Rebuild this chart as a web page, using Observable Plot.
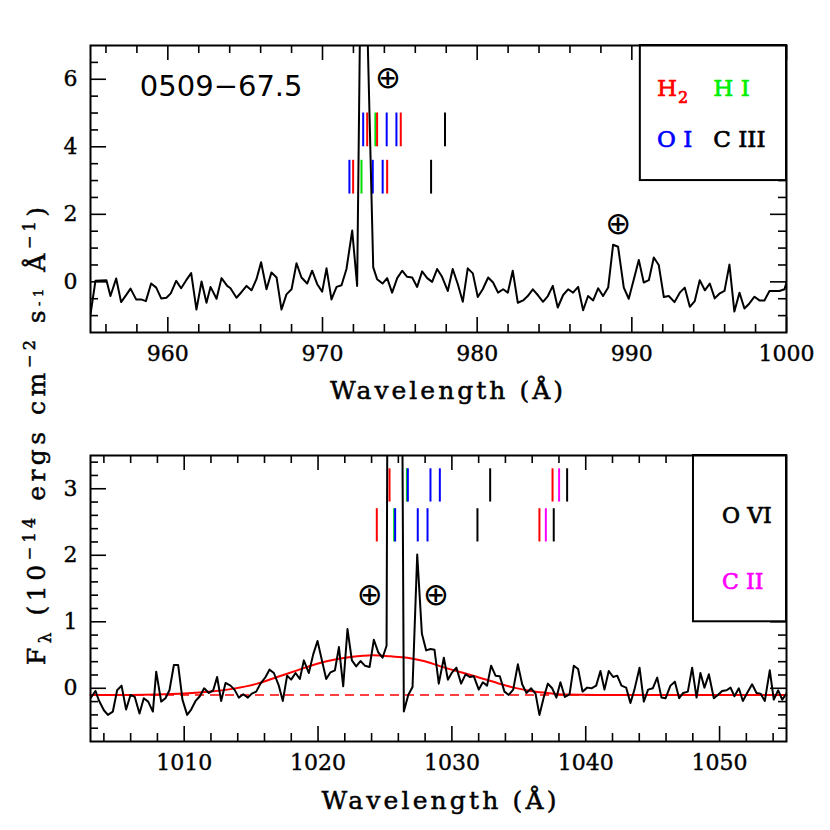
<!DOCTYPE html>
<html><head><meta charset="utf-8">
<script src="https://cdn.jsdelivr.net/npm/d3@7"></script>
<script src="https://cdn.jsdelivr.net/npm/@observablehq/plot@0.6"></script>
<style>
html,body{margin:0;padding:0;background:#fff;}
#wrap{position:relative;width:830px;height:830px;overflow:hidden;background:#fff;}
#wrap svg{position:absolute;left:0;}
</style></head><body><div id="wrap"></div>
<script>
// ---------- DATA ----------
const topWave = [955.00,955.32,955.67,956.03,956.29,956.66,956.98,957.29,957.59,957.95,958.27,958.58,958.92,959.25,959.57,959.91,960.19,960.54,960.86,961.19,961.51,961.85,962.18,962.50,962.76,963.15,963.47,963.84,964.05,964.44,964.77,965.09,965.41,965.73,966.03,966.38,966.70,967.03,967.35,967.67,968.00,968.32,968.64,969.01,969.33,969.66,969.98,970.26,970.58,970.91,971.23,971.55,971.92,972.24,972.52,972.84,973.28,973.53,973.88,974.18,974.50,974.83,975.15,975.47,975.80,976.12,976.44,976.77,977.09,977.41,977.73,978.10,978.42,978.75,979.07,979.39,979.72,980.04,980.36,980.71,981.03,981.35,981.68,981.98,982.30,982.63,982.97,983.27,983.60,983.92,984.26,984.57,984.89,985.21,985.56,985.88,986.20,986.53,986.85,987.17,987.50,987.82,988.14,988.47,988.79,989.11,989.48,989.80,990.13,990.45,990.77,991.10,991.42,991.74,992.07,992.39,992.76,993.10,993.42,993.75,994.07,994.39,994.72,995.04,995.36,995.69,995.99,996.31,996.63,996.96,997.28,997.60,997.93,998.25,998.57,998.90,999.22,999.54,999.87,1000.00];
const topFlux = [-0.96,0.03,0.04,0.05,-0.42,0.10,-0.60,-0.40,-0.20,-0.52,-0.52,-0.57,-0.05,-0.17,-0.49,-0.47,-0.34,0.03,-0.19,0.05,0.26,-0.82,0.01,-0.62,-0.15,-0.50,0.11,-0.12,-0.19,-0.47,-0.30,-0.12,-0.25,0.08,0.58,-0.22,0.28,0.13,-0.82,-0.37,-0.22,0.55,0.13,-0.05,0.33,-0.07,-0.29,0.40,-0.52,-0.15,-0.10,0.38,1.52,-0.12,11.5,8.7,0.43,0.08,-0.05,0.11,-0.32,0.11,0.33,0.15,0.13,-0.15,0.31,0.11,0.00,0.38,0.15,-0.27,0.38,-0.07,-0.59,0.40,0.25,-0.45,-0.22,0.13,-0.02,-0.32,-0.22,-0.32,0.33,-0.62,-0.55,-0.42,-0.22,-0.39,-0.59,-0.42,-0.12,-0.76,-0.39,-0.22,-0.32,-0.15,-0.84,-0.42,-0.55,-0.19,-0.42,-0.17,1.10,1.04,-0.17,-0.50,0.08,0.65,-0.02,0.05,0.72,0.50,-0.45,-0.42,-0.60,-0.32,-0.17,-0.74,-0.57,0.05,-0.25,-0.05,-0.49,-0.34,-0.27,0.51,-0.88,-0.32,-0.79,-0.64,-0.44,-0.55,-0.55,-0.27,-0.27,-0.27,-0.22,-0.02];

const botWave = [1003.00,1003.37,1003.62,1004.00,1004.30,1004.67,1004.99,1005.32,1005.66,1005.99,1006.31,1006.66,1006.98,1007.31,1007.66,1007.91,1008.28,1008.60,1008.90,1009.23,1009.55,1009.87,1010.22,1010.52,1010.85,1011.17,1011.49,1011.84,1012.17,1012.46,1012.76,1013.09,1013.46,1013.76,1014.08,1014.41,1014.76,1015.05,1015.38,1015.70,1016.08,1016.37,1016.70,1017.07,1017.37,1017.69,1017.99,1018.32,1018.64,1018.94,1019.31,1019.64,1019.96,1020.29,1020.61,1020.93,1021.26,1021.56,1021.88,1022.20,1022.53,1022.85,1023.17,1023.50,1023.85,1024.17,1024.50,1024.82,1025.12,1025.45,1025.77,1026.09,1026.41,1026.74,1027.06,1027.41,1027.76,1028.08,1028.40,1028.70,1029.02,1029.40,1029.70,1030.02,1030.34,1030.69,1031.02,1031.34,1031.64,1032.01,1032.31,1032.63,1032.93,1033.26,1033.58,1033.93,1034.25,1034.58,1034.93,1035.25,1035.57,1035.92,1036.25,1036.54,1036.87,1037.17,1037.49,1037.81,1038.11,1038.44,1038.79,1039.11,1039.43,1039.76,1040.11,1040.43,1040.78,1041.10,1041.40,1041.72,1042.05,1042.35,1042.67,1043.02,1043.34,1043.64,1044.02,1044.34,1044.66,1045.01,1045.34,1045.66,1045.96,1046.33,1046.66,1046.98,1047.28,1047.63,1047.95,1048.28,1048.57,1048.87,1049.20,1049.57,1049.87,1050.19,1050.52,1050.82,1051.11,1051.44,1051.74,1052.06,1052.43,1052.76,1053.06,1053.38,1053.75,1054.05,1054.38,1054.68,1055.00];
const botFlux = [-0.15,-0.04,-0.18,-0.33,-0.40,-0.35,-0.03,0.04,-0.32,-0.10,-0.13,-0.38,-0.15,-0.20,-0.35,0.25,-0.20,-0.15,-0.03,0.35,0.35,-0.17,-0.40,-0.32,-0.19,-0.12,0.00,-0.07,-0.03,0.17,-0.19,0.08,0.04,-0.02,-0.14,-0.09,-0.14,-0.08,-0.05,0.07,0.17,0.28,0.23,0.04,-0.19,0.19,0.13,0.23,0.14,0.42,0.23,0.51,0.71,0.42,0.14,0.24,0.27,0.62,0.03,0.89,0.42,0.33,0.41,0.34,0.32,0.73,0.54,0.46,0.64,20,40,12,-0.35,-0.10,0.02,2.01,0.82,0.57,0.59,0.58,0.07,0.46,0.13,0.24,0.31,0.07,0.21,0.17,0.18,-0.02,0.09,0.04,0.34,0.19,0.18,-0.05,-0.10,-0.02,0.36,0.06,-0.07,0.00,-0.08,-0.40,-0.13,0.07,0.00,-0.14,0.09,-0.13,-0.09,0.34,0.29,-0.05,0.01,0.00,0.04,0.26,-0.02,0.26,0.17,0.19,0.04,0.01,-0.22,-0.02,0.31,-0.20,-0.02,0.00,0.16,-0.14,-0.15,0.04,0.10,-0.15,-0.07,-0.05,0.31,-0.14,0.23,0.01,0.21,-0.15,-0.10,-0.04,-0.03,0.01,-0.12,0.00,-0.19,-0.07,0.06,-0.07,-0.08,-0.19,0.27,-0.17,-0.03,-0.17,-0.08];

// Gaussian fit (red curve)
const fitWave = [1003,1006,1008,1010,1012,1013.7,1015.45,1016.95,1018.44,1019.94,1021.18,1022.43,1024.17,1025.4,1026.66,1027.9,1029.15,1030.89,1032.14,1033.38,1034.63,1035.87,1037.12,1038.36,1040.85,1055];
const fitFlux = [-0.10,-0.10,-0.095,-0.08,-0.05,-0.005,0.07,0.17,0.27,0.37,0.43,0.47,0.495,0.48,0.46,0.41,0.33,0.23,0.155,0.08,0.01,-0.04,-0.07,-0.095,-0.10,-0.10];
const continuumLevel = [-0.1];

// absorption line identifications: wavelength, ion, row
const topLineWave = [972.63,972.89,973.42,973.53,974.15,974.78,975.06,977.92, 971.74,971.98,972.52,973.25,973.89,974.18,977.02];
const topLineIon  = ["OI","H2","HI","H2","OI","OI","H2","CIII", "OI","H2","HI","OI","OI","H2","CIII"];
const topLineRow  = ["hi","hi","hi","hi","hi","hi","hi","hi", "lo","lo","lo","lo","lo","lo","lo"];
const botLineWave = [1025.34,1026.64,1026.71,1028.40,1029.10,1032.86,1037.52,1038.01,1038.61, 1024.39,1025.69,1025.76,1027.45,1028.18,1031.91,1036.54,1037.02,1037.61];
const botLineIon  = ["H2","HI","OI","OI","OI","OVI","H2","CII","OVI", "H2","HI","OI","OI","OI","OVI","H2","CII","OVI"];
const botLineRow  = ["hi","hi","hi","hi","hi","hi","hi","hi","hi", "lo","lo","lo","lo","lo","lo","lo","lo","lo"];

// tick labels
const topXMajor = [960,970,980,990,1000];
const topXMinor = [956,958,962,964,966,968,972,974,976,978,982,984,986,988,992,994,996,998];
const topYMajor = [0,2,4,6];
const topYMinor = [-1,-0.5,0.5,1,1.5,2.5,3,3.5,4.5,5,5.5,6.5];
const botXMajor = [1010,1020,1030,1040,1050];
const botXMinor = [1004,1006,1008,1012,1014,1016,1018,1022,1024,1026,1028,1032,1034,1036,1038,1042,1044,1046,1048,1052,1054];
const botYMajor = [0,1,2,3];
const botYMinor = [-0.6,-0.4,-0.2,0.2,0.4,0.6,0.8,1.2,1.4,1.6,1.8,2.2,2.4,2.6,2.8,3.2,3.4];

// ---------- STYLE / LAYOUT ----------
const ionColor = {H2:"#ff0000", HI:"#00dd00", OI:"#0000ff", CIII:"#000000", OVI:"#000000", CII:"#ff00ff"};
const serif = "'DejaVu Serif', serif";
const sans = "'DejaVu Sans', sans-serif";
const wrap = document.getElementById("wrap");

function panel(cfg) {
  const W = 830, H = 415, mL = 90, mR = 44;
  const FW = W - mL - mR, FH = H - cfg.mT - cfg.mB;
  const spec = cfg.wave.map((w, i) => ({w, f: cfg.flux[i]}));
  const lines = cfg.lw.map((w, i) => ({w, ion: cfg.li[i], row: cfg.lr[i]}));
  const tk = {stroke: "black", strokeWidth: 1.6};
  const marks = [
    Plot.ruleX(lines, {x: "w", y1: d => cfg.rows[d.row][0], y2: d => cfg.rows[d.row][1], stroke: d => ionColor[d.ion], strokeWidth: 2}),
    ...(cfg.extra || []),
    Plot.line(spec, {x: "w", y: "f", stroke: "black", strokeWidth: 2, clip: true}),
    Plot.tickX(cfg.xMajor, {x: d => d, insetTop: FH - 15, ...tk}),
    Plot.tickX(cfg.xMajor, {x: d => d, insetBottom: FH - 15, ...tk}),
    Plot.tickX(cfg.xMinor, {x: d => d, insetTop: FH - 8, ...tk}),
    Plot.tickX(cfg.xMinor, {x: d => d, insetBottom: FH - 8, ...tk}),
    Plot.tickY(cfg.yMajor, {y: d => d, insetRight: FW - 16, ...tk}),
    Plot.tickY(cfg.yMajor, {y: d => d, insetLeft: FW - 16, ...tk}),
    Plot.tickY(cfg.yMinor, {y: d => d, insetRight: FW - 8, ...tk}),
    Plot.tickY(cfg.yMinor, {y: d => d, insetLeft: FW - 8, ...tk}),
    Plot.text(cfg.xMajor, {x: d => d, text: d => String(d), frameAnchor: "bottom", lineAnchor: "top", dy: 13, fontSize: 22, fontFamily: serif, fill: "black", stroke: "black", strokeWidth: 0.4}),
    Plot.text(cfg.yMajor, {y: d => d, text: d => String(d), frameAnchor: "left", textAnchor: "end", dx: -13, fontSize: 22, fontFamily: serif, fill: "black", stroke: "black", strokeWidth: 0.4}),
    Plot.rect([cfg.box], {x1: "x1", x2: "x2", y1: "y1", y2: "y2", fill: "white", stroke: "black", strokeWidth: 2}),
    ...cfg.labels,
    Plot.frame({stroke: "black", strokeWidth: 2})
  ];
  const svg = Plot.plot({
    width: W, height: H, marginLeft: mL, marginRight: mR, marginTop: cfg.mT, marginBottom: cfg.mB,
    x: {domain: cfg.xDomain, axis: null},
    y: {domain: cfg.yDomain, axis: null},
    style: {background: "transparent"},
    marks
  });
  svg.style.top = cfg.top + "px";
  wrap.appendChild(svg);
}

const txt = (data, o) => Plot.text(data, {fontFamily: serif, lineAnchor: "bottom", textAnchor: "start", strokeWidth: 0.7, ...o, stroke: o.fill});
const earth = (data) => Plot.text(data, {x: "x", y: "y", text: () => "\u2295", fontFamily: sans, fontSize: 31, fill: "black"});

// top panel
panel({
  top: 0, mT: 45, mB: 83,
  xDomain: [955, 1000], yDomain: [-1.5, 7],
  wave: topWave, flux: topFlux,
  lw: topLineWave, li: topLineIon, lr: topLineRow,
  rows: {hi: [4, 5], lo: [2.6, 3.6]},
  xMajor: topXMajor, xMinor: topXMinor, yMajor: topYMajor, yMinor: topYMinor,
  box: {x1: 990.55, x2: 1000, y1: 3.0, y2: 7},
  labels: [
    Plot.text([{x: 958.19, y: 5.49}], {x: "x", y: "y", text: () => "0509\u221267.5", fontFamily: sans, fontSize: 29, fill: "black", lineAnchor: "bottom", textAnchor: "start"}),
    earth([{x: 974.23, y: 6.03}, {x: 989.12, y: 1.72}]),
    txt([{x: 991.63, y: 5.49}], {x: "x", y: "y", text: () => "H", fontSize: 23, fill: ionColor.H2}),
    txt([{x: 991.63, y: 5.49}], {x: "x", y: "y", text: () => "2", fontSize: 16, dx: 21, dy: 7, fill: ionColor.H2}),
    txt([{x: 995.27, y: 5.49}], {x: "x", y: "y", text: () => "H I", fontSize: 23, fill: "#00ee00"}),
    txt([{x: 991.63, y: 4.0}], {x: "x", y: "y", text: () => "O I", fontSize: 23, fill: ionColor.OI}),
    txt([{x: 995.27, y: 4.0}], {x: "x", y: "y", text: () => "C III", fontSize: 23, fill: "#000000"})
  ]
});

// bottom panel
panel({
  top: 415, mT: 40, mB: 89,
  xDomain: [1003, 1055], yDomain: [-0.8, 3.5],
  wave: botWave, flux: botFlux,
  lw: botLineWave, li: botLineIon, lr: botLineRow,
  rows: {hi: [2.8, 3.3], lo: [2.2, 2.7]},
  xMajor: botXMajor, xMinor: botXMinor, yMajor: botYMajor, yMinor: botYMinor,
  box: {x1: 1048.05, x2: 1055, y1: 1.0, y2: 3.5},
  extra: [
    Plot.ruleY(continuumLevel, {y: d => d, stroke: "#ff0000", strokeWidth: 1.6, strokeDasharray: "9,6"}),
    Plot.line(fitWave.map((w, i) => ({w, f: fitFlux[i]})), {x: "w", y: "f", stroke: "#ff0000", strokeWidth: 2, curve: "monotone-x"})
  ],
  labels: [
    earth([{x: 1023.86, y: 1.40}, {x: 1028.81, y: 1.40}]),
    txt([{x: 1050.19, y: 2.48}], {x: "x", y: "y", text: () => "O VI", fontSize: 22, fill: "#000000"}),
    txt([{x: 1050.19, y: 1.49}], {x: "x", y: "y", text: () => "C II", fontSize: 22, fill: ionColor.CII})
  ]
});

// axis titles overlay
const ov = d3.create("svg").attr("width", 830).attr("height", 830)
  .style("top", "0px").style("pointer-events", "none");
function title(x, y, w, s) {
  ov.append("text").attr("x", x).attr("y", y).attr("text-anchor", "middle")
    .attr("font-family", serif).attr("font-size", 25).attr("fill", "black")
    .attr("stroke", "black").attr("stroke-width", 0.5)
    .attr("textLength", w).attr("lengthAdjust", "spacing").text(s);
}
title(446.5, 399, 233, "Wavelength (\u00C5)");
title(439, 809, 235, "Wavelength (\u00C5)");
const yl = ov.append("text").attr("transform", "translate(45,436) rotate(-90)")
  .attr("text-anchor", "middle").attr("font-family", serif).attr("font-size", 25).attr("fill", "black")
  .attr("stroke", "black").attr("stroke-width", 0.5)
  .attr("textLength", 458).attr("lengthAdjust", "spacing");
const parts = [
  ["F", 0, 25], ["\u03BB", 6, 17], [" (10", -6, 25], ["\u221214", -10, 16], [" ergs cm", 10, 25],
  ["\u22122", -10, 16], [" s", 10, 25], ["-1", -2, 13], [" \u00C5", 2, 25], ["\u22121", -10, 16], [")", 10, 25]
];
parts.forEach(([t, dy, fs]) => yl.append("tspan").attr("dy", dy).attr("font-size", fs).text(t));
wrap.appendChild(ov.node());
</script></body></html>
